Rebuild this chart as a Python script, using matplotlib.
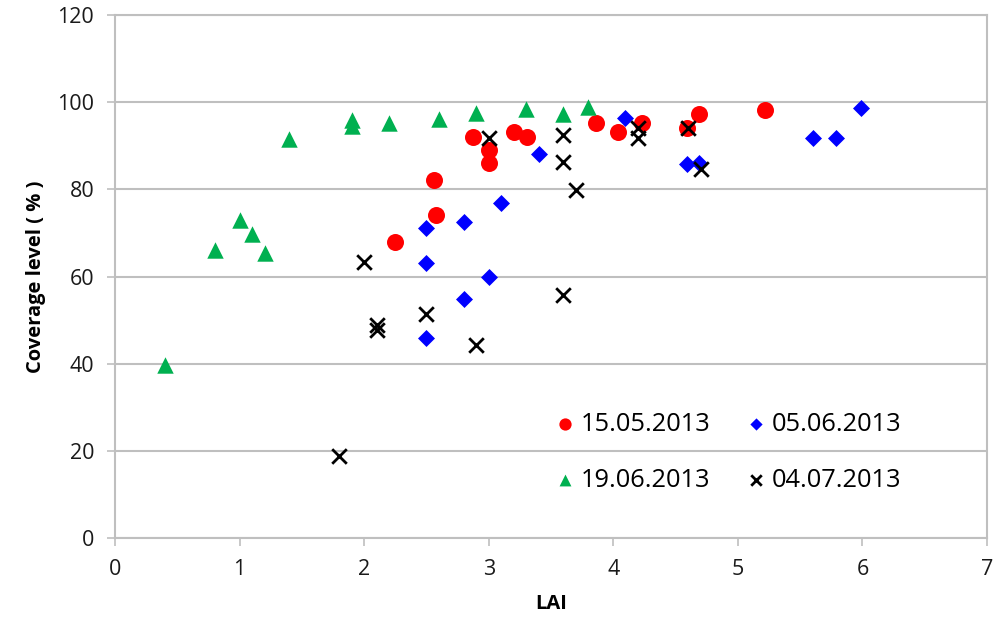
import matplotlib
matplotlib.use("Agg")
import matplotlib.pyplot as plt

# 15.05.2013
lai_1505 = [2.25, 2.56, 2.58, 2.87, 3.0, 3.0, 3.2, 3.31, 3.86, 4.04, 4.23, 4.59, 4.69, 5.22]
cov_1505 = [68.0, 82.1, 74.1, 92.1, 89.0, 86.1, 93.1, 92.1, 95.2, 93.1, 95.2, 94.0, 97.2, 98.2]
# 05.06.2013
lai_0506 = [2.5, 2.5, 2.5, 2.8, 2.8, 3.0, 3.1, 3.4, 4.09, 4.59, 4.69, 5.6, 5.79, 5.99]
cov_0506 = [71.1, 63.0, 45.8, 72.6, 54.8, 59.8, 76.8, 88.1, 96.3, 85.8, 86.0, 91.9, 91.9, 98.7]
# 19.06.2013
lai_1906 = [0.4, 0.8, 1.0, 1.1, 1.2, 1.4, 1.9, 1.9, 2.2, 2.6, 2.9, 3.3, 3.6, 3.8]
cov_1906 = [39.7, 66.2, 73.0, 69.8, 65.5, 91.5, 96.0, 94.5, 95.3, 96.1, 97.6, 98.4, 97.3, 99.0]
# 04.07.2013
lai_0407 = [1.8, 2.0, 2.1, 2.1, 2.5, 2.9, 3.0, 3.6, 3.6, 3.6, 3.7, 4.2, 4.2, 4.6, 4.7]
cov_0407 = [18.8, 63.4, 48.9, 47.7, 51.4, 44.4, 91.7, 92.5, 86.3, 55.8, 79.9, 94.0, 91.8, 94.0, 84.6]

labels = ["15.05.2013", "05.06.2013", "19.06.2013", "04.07.2013"]
x_ticks = [0, 1, 2, 3, 4, 5, 6, 7]
y_ticks = [0, 20, 40, 60, 80, 100, 120]

plt.rcParams['font.family'] = ['Open Sans', 'DejaVu Sans']

fig = plt.figure(figsize=(9.95, 6.29), dpi=100)
ax = fig.add_axes([0.1156, 0.1447, 0.8764, 0.8313])

grid_c = "#BFBFBF"
ax.set_xlim(0, 7)
ax.set_ylim(0, 120)
ax.set_xticks(x_ticks)
ax.set_yticks(y_ticks)
ax.yaxis.grid(True, color=grid_c, linewidth=1.5)
ax.set_axisbelow(True)
for s in ax.spines.values():
    s.set_color(grid_c)
    s.set_linewidth(1.5)
ax.tick_params(axis='both', color=grid_c, width=1.2, length=6, direction='out',
               labelsize=15.5, labelcolor='#1a1a1a', pad=9)

h1 = ax.scatter(lai_1505, cov_1505, s=150, marker='o', color='#FF0000', linewidths=0, zorder=3)
h2 = ax.scatter(lai_0506, cov_0506, s=75, marker='D', color='#0000FF', linewidths=0, zorder=3)
h3 = ax.scatter(lai_1906, cov_1906, s=140, marker='^', color='#00B050', linewidths=0, zorder=3)
h4 = ax.scatter(lai_0407, cov_0407, s=110, marker='x', color='black', linewidths=2, zorder=4)

ax.set_xlabel("LAI", fontsize=14.5, fontweight='bold', labelpad=10)
ax.set_ylabel("Coverage level ( % )", fontsize=14.5, fontweight='bold', labelpad=8)

leg = ax.legend([h1, h3, h2, h4], [labels[0], labels[2], labels[1], labels[3]],
                ncol=2, frameon=False, fontsize=18.3, loc='lower left',
                bbox_to_anchor=(0.473, 0.043), handletextpad=0.05,
                columnspacing=1.22, labelspacing=1.22, markerscale=0.72,
                handlelength=1.15)

fig.savefig("out.png", dpi=100)
